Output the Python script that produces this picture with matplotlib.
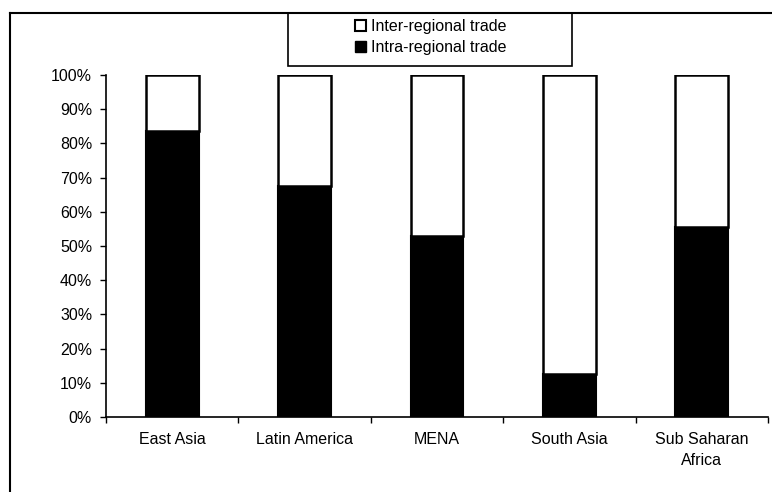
import numpy as np
import matplotlib
matplotlib.use('Agg')
import matplotlib.pyplot as plt
from matplotlib.patches import Patch, Rectangle
from matplotlib.lines import Line2D

plt.rcParams['font.family'] = ['Liberation Sans', 'DejaVu Sans']

# Share of trade by region
regions = ['East Asia', 'Latin America', 'MENA', 'South Asia', 'Sub Saharan\nAfrica']
intra_share = [83.7, 67.5, 53.0, 12.5, 55.7]
inter_share = [100 - v for v in intra_share]
y_ticks = [0, 10, 20, 30, 40, 50, 60, 70, 80, 90, 100]

W, H = 772, 492
fig = plt.figure(figsize=(W / 100, H / 100), dpi=100)
ax = fig.add_axes([106 / W, (H - 417) / H, (768 - 106) / W, (417 - 75) / H])

x = np.arange(len(regions))
ax.bar(x, intra_share, width=0.40, color='black', edgecolor='black', linewidth=1.5,
       label='Intra-regional trade')
ax.bar(x, inter_share, width=0.40, bottom=intra_share, color='white', edgecolor='black',
       linewidth=1.8, label='Inter-regional trade')

ax.set_xlim(-0.5, len(regions) - 0.5)
ax.set_ylim(0, 100)
ax.set_yticks(y_ticks)
ax.set_yticklabels([f'{v}%' for v in y_ticks], fontsize=11.5)
ax.set_xticks(np.arange(len(regions) + 1) - 0.5)
ax.set_xticklabels([])
ax.set_xticks(x, minor=True)
ax.set_xticklabels(regions, minor=True, fontsize=11.5, linespacing=1.45)
ax.tick_params(axis='x', which='minor', length=0, pad=11)
ax.tick_params(axis='x', which='major', length=4, width=1, direction='out')
ax.tick_params(axis='y', length=4.5, width=1, direction='out', pad=5.5)

for side in ['top', 'right']:
    ax.spines[side].set_visible(False)
for side in ['left', 'bottom']:
    ax.spines[side].set_linewidth(1.2)

# outer frame of the scanned figure
fig.add_artist(Line2D([10 / W, 10 / W], [0, 1 - 13 / H], color='black', lw=1.5))
fig.add_artist(Line2D([10 / W, 1], [1 - 13 / H, 1 - 13 / H], color='black', lw=1.5))

# legend box, content centred inside it
fig.add_artist(Rectangle((288 / W, 1 - 66 / H), (572 - 288) / W, (66 - 13) / H,
                         transform=fig.transFigure, facecolor='white',
                         edgecolor='black', linewidth=1.2))
handles = [Patch(facecolor='white', edgecolor='black', linewidth=1.5, label='Inter-regional trade'),
           Patch(facecolor='black', edgecolor='black', label='Intra-regional trade')]
leg = fig.legend(handles=handles, loc='center', bbox_to_anchor=(431 / W, 1 - 37 / H),
                 frameon=False, fontsize=11.5, handlelength=0.65, handleheight=0.65,
                 handletextpad=0.35, borderpad=0, labelspacing=0.35)

fig.savefig('out.png', dpi=100)
